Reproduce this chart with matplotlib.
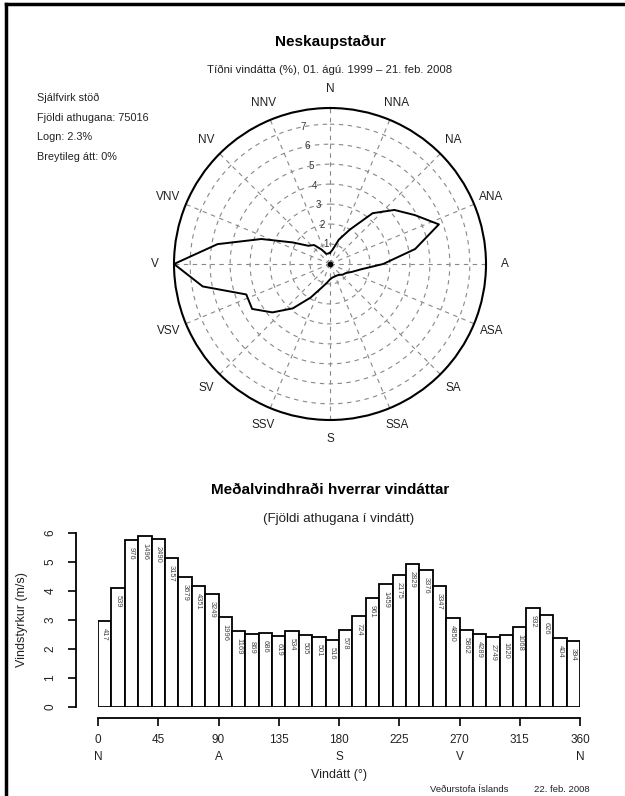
import numpy as np
import matplotlib.pyplot as plt
from matplotlib.lines import Line2D

plt.rcParams["font.family"] = ["Liberation Sans", "DejaVu Sans"]

# ------------------------------------------------------------
# data
# ------------------------------------------------------------
directions = np.arange(0, 360, 10)          # 36 sectors, degrees

# wind rose: frequency of each direction (%)
freq_pct = [0.56, 0.72, 1.30, 1.99, 3.32, 4.21, 4.90, 5.80, 4.33, 2.66,
            1.56, 1.16, 0.91, 0.83, 0.71, 0.67, 0.67, 0.69, 0.77, 0.97,
            1.28, 1.94, 2.90, 3.77, 4.50, 4.46, 6.47, 7.81, 5.72, 3.66,
            2.16, 1.42, 1.24, 0.83, 0.54, 0.53]

# mean wind speed per direction (m/s)
mean_speed = [2.97, 4.10, 5.76, 5.87, 5.77, 5.14, 4.48, 4.16, 3.90, 3.10,
              2.61, 2.50, 2.54, 2.45, 2.61, 2.47, 2.41, 2.30, 2.66, 3.13,
              3.74, 4.23, 4.55, 4.92, 4.72, 4.17, 3.07, 2.66, 2.51, 2.41,
              2.46, 2.74, 3.39, 3.15, 2.37, 2.27]

# number of observations per direction
counts = [417, 539, 976, 1496, 2490, 3157, 3679, 4351, 3249, 1996,
          1169, 869, 686, 619, 534, 505, 501, 516, 578, 724,
          961, 1459, 2175, 2829, 3376, 3347, 4850, 5862, 4289, 2749,
          1620, 1068, 932, 626, 404, 394]

compass = ["N", "NNA", "NA", "ANA", "A", "ASA", "SA", "SSA",
           "S", "SSV", "SV", "VSV", "V", "VNV", "NV", "NNV"]
ring_levels = [1, 2, 3, 4, 5, 6, 7]

info_lines = ["Sjálfvirk stöð", "Fjöldi athugana: 75016",
              "Logn: 2.3%", "Breytileg átt: 0%"]

xticks = [0, 45, 90, 135, 180, 225, 270, 315, 360]
xtick_labels = ["0\nN", "45", "90\nA", "135", "180\nS", "225",
                "270\nV", "315", "360\nN"]

W, H = 625, 796
fig = plt.figure(figsize=(W / 100, H / 100), dpi=100)


def fx(px):
    return px / W


def fy(py):
    return 1 - py / H


# frame left over from the scan
fig.add_artist(Line2D([fx(6), 1], [fy(4), fy(4)], color="black", lw=2.5))
fig.add_artist(Line2D([fx(6), fx(6)], [fy(4), 0], color="black", lw=2.5))

# ------------------------------------------------------------
# wind rose
# ------------------------------------------------------------
fig.text(fx(330), fy(42), "Neskaupstaður", ha="center", va="center",
         fontsize=11, fontweight="bold")
fig.text(fx(330), fy(70), "Tíðni vindátta (%), 01. ágú. 1999 – 21. feb. 2008",
         ha="center", va="center", fontsize=8.2, color="#222222")

for k, line in enumerate(info_lines):
    fig.text(fx(37), fy(98 + 19.7 * k), line, ha="left", va="center",
             fontsize=7.8, color="#222222")

rmax = 7.81
cx, cy, rad = 330, 264, 156
ax = fig.add_axes([fx(cx - rad), fy(cy + rad), 2 * rad / W, 2 * rad / H],
                  projection="polar")
ax.set_theta_zero_location("N")
ax.set_theta_direction(-1)
ax.set_ylim(0, rmax)
ax.grid(False)
ax.set_xticks([])
ax.set_yticks([])
ax.spines["polar"].set_linewidth(1.5)

t = np.linspace(0, 2 * np.pi, 361)
for r in ring_levels:
    ax.plot(t, np.full_like(t, r), color="#888888", lw=0.8, ls=(0, (4, 4)))
for k in range(16):
    a = np.deg2rad(22.5 * k)
    ax.plot([a, a], [0, rmax], color="#888888", lw=0.8, ls=(0, (4, 4)))

for k, lab in enumerate(compass):
    ax.text(np.deg2rad(22.5 * k), 8.75, lab, ha="center", va="center",
            fontsize=8.5, color="#222222", clip_on=False)

for r in ring_levels:
    ax.text(np.deg2rad(349), r, str(r), ha="center", va="center",
            fontsize=7, color="#333333")

theta = np.deg2rad(np.append(directions, directions[0]))
rr = np.append(freq_pct, freq_pct[0])
ax.plot(theta, rr, color="black", lw=1.4)
ax.plot([0], [0], "o", color="black", ms=3)

# ------------------------------------------------------------
# mean wind speed per direction
# ------------------------------------------------------------
fig.text(fx(330), fy(490), "Meðalvindhraði hverrar vindáttar", ha="center",
         va="center", fontsize=11, fontweight="bold")
fig.text(fx(339), fy(519), "(Fjöldi athugana í vindátt)", ha="center",
         va="center", fontsize=9.6, color="#222222")

y0, y6 = 706.7, 532.7
bx = fig.add_axes([fx(98), fy(y0), 482 / W, (y0 - y6) / H])
bx.bar(directions, mean_speed, width=10, align="edge", color="white",
       edgecolor="black", linewidth=1.3)
for d, v, n in zip(directions, mean_speed, counts):
    bx.annotate(str(n), (d + 5, v), xytext=(0, -5), textcoords="offset points",
                ha="center", va="top", rotation=-90, fontsize=5.4,
                color="#444444")

bx.set_xlim(0, 360)
bx.set_ylim(0, 6)
for s in ["top", "right"]:
    bx.spines[s].set_visible(False)
bx.spines["left"].set_position(("outward", 16))
bx.spines["left"].set_bounds(0, 6)
bx.spines["bottom"].set_position(("outward", 8))
bx.spines["bottom"].set_bounds(0, 360)
for s in ["left", "bottom"]:
    bx.spines[s].set_linewidth(1.3)
bx.set_yticks(range(7))
bx.set_yticklabels([str(v) for v in range(7)], rotation=90, va="center")
bx.set_xticks(xticks)
bx.set_xticklabels(xtick_labels, linespacing=1.5, va="top")
bx.tick_params(axis="both", length=6, width=1.2, labelsize=8.5,
               labelcolor="#222222", pad=8)
bx.tick_params(axis="x", pad=6)
bx.set_ylabel("Vindstyrkur (m/s)", fontsize=9, color="#222222", labelpad=12)
bx.set_xlabel("Vindátt (°)", fontsize=9, color="#222222", labelpad=4)

fig.text(fx(430), fy(789), "Veðurstofa Íslands", ha="left", va="center",
         fontsize=6.8, color="#222222")
fig.text(fx(590), fy(789), "22. feb. 2008", ha="right", va="center",
         fontsize=6.8, color="#222222")

fig.savefig("out.png", dpi=100, facecolor="white")
